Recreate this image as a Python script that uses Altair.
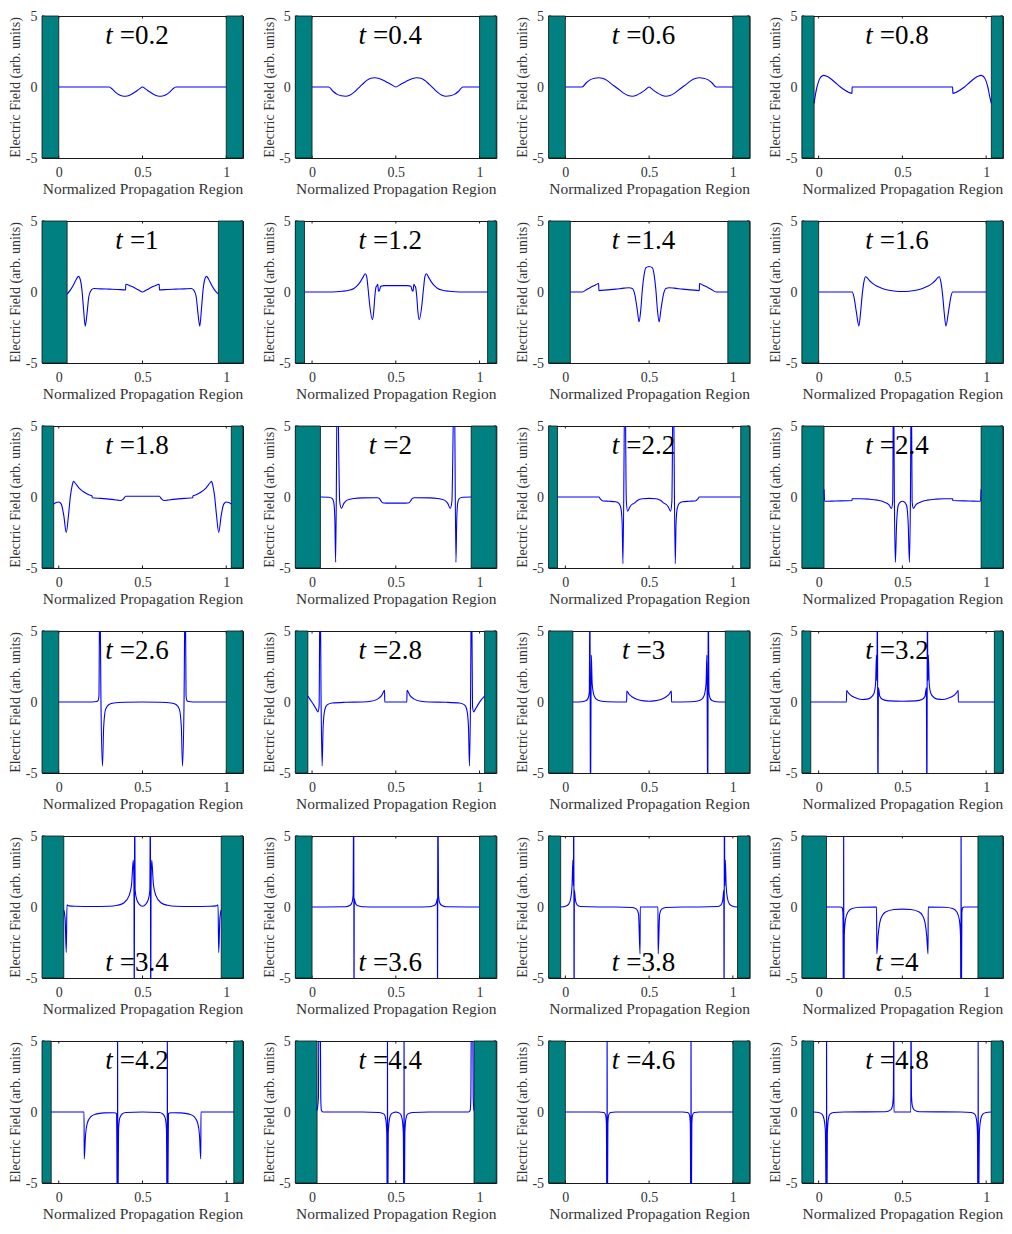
import altair as alt
import pandas as pd

FONT = "Liberation Serif"
TEAL = "#008080"
BLUE = "#0000ff"
TEXT_COLOR = "#333333"
FRAME = "#1a1a1a"

X_TITLE = "Normalized Propagation Region"
Y_TITLE = "Electric Field (arb. units)"
X_DOMAIN = [-0.1, 1.1]
Y_DOMAIN = [-5, 5]
X_TICKS = [0, 0.5, 1]
Y_TICKS = [-5, 0, 5]

T_LABELS = ["0.2", "0.4", "0.6", "0.8", "1", "1.2", "1.4", "1.6",
            "1.8", "2", "2.2", "2.4", "2.6", "2.8", "3", "3.2",
            "3.4", "3.6", "3.8", "4", "4.2", "4.4", "4.6", "4.8"]
TITLE_AT_BOTTOM = ["3.4", "3.6", "3.8", "4"]

WALL_LEFT = [0, 0, 0, -0.027, 0.05, -0.045, 0.03, 0,
             -0.03, 0.05, -0.047, 0.032, 0, -0.025, 0.045, -0.047,
             0.03, 0, -0.028, 0.047, -0.045, 0.03, 0, -0.03]
WALL_RIGHT = [1, 1, 1, 1.031, 0.953, 1.048, 0.97, 1,
              1.03, 0.95, 1.047, 0.97, 1, 1.03, 0.955, 1.049,
              0.97, 1, 1.028, 0.951, 1.045, 0.967, 1, 1.03]

E_T02 = [(0, 0), (0.3, 0), (0.32, -0.15), (0.34, -0.38), (0.36, -0.55), (0.38, -0.63), (0.4, -0.65),
         (0.42, -0.6), (0.44, -0.48), (0.46, -0.32), (0.48, -0.15), (0.5, 0), (0.52, -0.15), (0.54, -0.32),
         (0.56, -0.48), (0.58, -0.6), (0.6, -0.65), (0.62, -0.63), (0.64, -0.55), (0.66, -0.38),
         (0.68, -0.15), (0.7, 0), (1, 0)]
E_T04 = [(0, 0), (0.1, 0), (0.125, -0.3), (0.15, -0.52), (0.175, -0.62), (0.2, -0.65), (0.225, -0.58),
         (0.25, -0.38), (0.275, -0.1), (0.3, 0.18), (0.325, 0.45), (0.35, 0.62), (0.375, 0.65), (0.4, 0.6),
         (0.425, 0.48), (0.45, 0.32), (0.475, 0.16), (0.5, 0), (0.525, 0.16), (0.55, 0.32), (0.575, 0.48),
         (0.6, 0.6), (0.625, 0.65), (0.65, 0.62), (0.675, 0.45), (0.7, 0.18), (0.725, -0.1), (0.75, -0.38),
         (0.775, -0.58), (0.8, -0.65), (0.825, -0.62), (0.85, -0.52), (0.875, -0.3), (0.9, 0), (1, 0)]
E_T06 = [(0, 0), (0.1, 0), (0.125, 0.3), (0.15, 0.52), (0.175, 0.62), (0.2, 0.65), (0.225, 0.6),
         (0.25, 0.45), (0.275, 0.22), (0.3, 0), (0.325, -0.22), (0.35, -0.45), (0.375, -0.6), (0.4, -0.65),
         (0.425, -0.58), (0.45, -0.42), (0.475, -0.22), (0.5, 0), (0.525, -0.22), (0.55, -0.42),
         (0.575, -0.58), (0.6, -0.65), (0.625, -0.6), (0.65, -0.45), (0.675, -0.22), (0.7, 0), (0.725, 0.22),
         (0.75, 0.45), (0.775, 0.6), (0.8, 0.65), (0.825, 0.62), (0.85, 0.52), (0.875, 0.3), (0.9, 0), (1, 0)]
E_T08 = [(-0.027, -1.15), (-0.02, -0.6), (-0.01, 0.0), (0, 0.4), (0.01, 0.65), (0.02, 0.78), (0.03, 0.82),
         (0.045, 0.78), (0.07, 0.6), (0.1, 0.3), (0.13, 0.0), (0.16, -0.25), (0.18, -0.38), (0.199, -0.45),
         (0.2, 0), (0.8, 0), (0.801, -0.45), (0.82, -0.38), (0.84, -0.25), (0.87, 0.0), (0.9, 0.3),
         (0.93, 0.6), (0.955, 0.78), (0.97, 0.82), (0.98, 0.78), (0.99, 0.65), (1.0, 0.4), (1.01, 0.0),
         (1.02, -0.6), (1.031, -1.15)]
E_T10 = [(0.05, -0.15), (0.07, 0.15), (0.09, 0.55), (0.105, 0.9), (0.118, 1.1), (0.128, 0.9), (0.138, 0.2),
         (0.148, -1.2), (0.158, -2.4), (0.168, -1.6), (0.18, -0.3), (0.195, 0.15), (0.21, 0.25), (0.25, 0.22),
         (0.3, 0.2), (0.35, 0.18), (0.399, 0.15), (0.4, 0.55), (0.43, 0.42), (0.46, 0.25), (0.48, 0.12),
         (0.5, 0.0), (0.52, 0.12), (0.54, 0.25), (0.57, 0.42), (0.6, 0.55), (0.601, 0.15), (0.65, 0.18),
         (0.7, 0.2), (0.75, 0.22), (0.79, 0.25), (0.805, 0.15), (0.82, -0.3), (0.832, -1.6), (0.842, -2.4),
         (0.852, -1.2), (0.862, 0.2), (0.872, 0.9), (0.882, 1.1), (0.895, 0.9), (0.91, 0.55), (0.93, 0.15),
         (0.953, -0.15)]
E_T12 = [(-0.045, 0), (0.12, 0), (0.18, 0.05), (0.22, 0.12), (0.25, 0.25), (0.27, 0.45), (0.29, 0.75),
         (0.305, 1.05), (0.318, 1.28), (0.326, 1.1), (0.334, 0.3), (0.345, -1.0), (0.36, -1.95),
         (0.368, -1.4), (0.375, -0.3), (0.382, 0.35), (0.388, 0.45), (0.392, 0.55), (0.397, 0.05),
         (0.402, 0.1), (0.41, 0.4), (0.43, 0.45), (0.5, 0.45), (0.57, 0.45), (0.59, 0.4), (0.598, 0.1),
         (0.603, 0.05), (0.608, 0.55), (0.612, 0.45), (0.618, 0.35), (0.625, -0.3), (0.632, -1.4),
         (0.64, -1.95), (0.655, -1.0), (0.666, 0.3), (0.674, 1.1), (0.682, 1.28), (0.695, 1.05),
         (0.71, 0.75), (0.73, 0.45), (0.75, 0.25), (0.78, 0.12), (0.82, 0.05), (0.88, 0), (1.048, 0)]
E_T14 = [(0.03, 0), (0.1, 0), (0.13, 0.2), (0.16, 0.38), (0.18, 0.5), (0.199, 0.6), (0.2, 0.1),
         (0.25, 0.15), (0.3, 0.2), (0.35, 0.27), (0.38, 0.3), (0.4, 0.25), (0.415, -0.2), (0.43, -1.3),
         (0.44, -2.1), (0.45, -1.3), (0.46, 0.2), (0.47, 1.2), (0.48, 1.7), (0.5, 1.8), (0.52, 1.7),
         (0.53, 1.2), (0.54, 0.2), (0.55, -1.3), (0.56, -2.1), (0.57, -1.3), (0.585, -0.2), (0.6, 0.25),
         (0.62, 0.3), (0.65, 0.27), (0.7, 0.2), (0.75, 0.15), (0.8, 0.1), (0.801, 0.6), (0.82, 0.5),
         (0.84, 0.38), (0.87, 0.2), (0.9, 0), (0.97, 0)]
E_T16 = [(0, 0), (0.2, 0), (0.21, -0.3), (0.225, -1.4), (0.24, -2.4), (0.25, -1.5), (0.26, -0.2),
         (0.27, 0.7), (0.28, 1.07), (0.29, 1.0), (0.3, 0.85), (0.32, 0.62), (0.35, 0.4), (0.38, 0.25),
         (0.42, 0.12), (0.46, 0.05), (0.5, 0.03), (0.54, 0.05), (0.58, 0.12), (0.62, 0.25), (0.65, 0.4),
         (0.68, 0.62), (0.7, 0.85), (0.71, 1.0), (0.72, 1.07), (0.73, 0.7), (0.74, -0.2), (0.75, -1.5),
         (0.76, -2.4), (0.775, -1.4), (0.79, -0.3), (0.8, 0), (1, 0)]
E_T18 = [(-0.03, -0.5), (-0.015, -0.38), (0, -0.35), (0.015, -0.5), (0.03, -1.3), (0.045, -2.5),
         (0.058, -1.3), (0.07, 0.1), (0.08, 0.8), (0.088, 1.1), (0.1, 0.95), (0.12, 0.65), (0.15, 0.35),
         (0.18, 0.15), (0.199, 0.07), (0.2, -0.05), (0.25, -0.1), (0.3, -0.15), (0.35, -0.22), (0.37, -0.25),
         (0.385, -0.15), (0.4, 0.05), (0.6, 0.05), (0.615, -0.15), (0.63, -0.25), (0.65, -0.22), (0.7, -0.15),
         (0.75, -0.1), (0.8, -0.05), (0.801, 0.07), (0.82, 0.15), (0.85, 0.35), (0.88, 0.65), (0.9, 0.95),
         (0.912, 1.1), (0.92, 0.8), (0.93, 0.1), (0.942, -1.3), (0.955, -2.5), (0.97, -1.3), (0.985, -0.5),
         (1.0, -0.35), (1.015, -0.38), (1.03, -0.5)]
E_T20 = [(0.05, 0), (0.1, -0.02), (0.12, -0.1), (0.13, -0.4), (0.136, -1.5), (0.141, -4.6), (0.151, 9),
         (0.165, -0.3), (0.175, -0.8), (0.19, -0.45), (0.21, -0.22), (0.25, -0.1), (0.3, -0.06),
         (0.39, -0.05), (0.4, -0.08), (0.41, -0.25), (0.42, -0.4), (0.44, -0.43), (0.5, -0.43),
         (0.56, -0.43), (0.58, -0.4), (0.59, -0.25), (0.6, -0.08), (0.61, -0.05), (0.7, -0.06),
         (0.75, -0.1), (0.79, -0.22), (0.81, -0.45), (0.825, -0.8), (0.835, -0.3), (0.849, 9),
         (0.859, -4.6), (0.864, -1.5), (0.87, -0.4), (0.88, -0.1), (0.9, -0.02), (0.95, 0)]
E_T22 = [(-0.047, 0), (0.2, 0), (0.21, -0.15), (0.225, -0.28), (0.26, -0.3), (0.3, -0.33), (0.32, -0.45),
         (0.332, -0.8), (0.339, -1.8), (0.344, -4.7), (0.356, 9), (0.364, -0.3), (0.372, -1.0),
         (0.385, -0.7), (0.4, -0.5), (0.41, -0.45), (0.43, -0.25), (0.46, -0.12), (0.5, -0.1),
         (0.54, -0.12), (0.57, -0.25), (0.59, -0.45), (0.6, -0.5), (0.615, -0.7), (0.628, -1.0),
         (0.636, -0.3), (0.644, 9), (0.656, -4.7), (0.661, -1.8), (0.668, -0.8), (0.68, -0.45),
         (0.7, -0.33), (0.74, -0.3), (0.775, -0.28), (0.79, -0.15), (0.8, 0), (1.047, 0)]
E_T24 = [(0.032, 0.55), (0.036, -0.3), (0.1, -0.28), (0.199, -0.25), (0.2, -0.12), (0.25, -0.12),
         (0.3, -0.15), (0.35, -0.22), (0.39, -0.35), (0.42, -0.55), (0.435, -0.8), (0.442, -0.3),
         (0.447, 9), (0.452, 0), (0.458, -4.6), (0.465, -2), (0.475, -0.6), (0.49, -0.33), (0.5, -0.3),
         (0.51, -0.33), (0.525, -0.6), (0.535, -2), (0.542, -4.6), (0.548, 0), (0.553, 9), (0.558, -0.3),
         (0.565, -0.8), (0.58, -0.55), (0.61, -0.35), (0.65, -0.22), (0.7, -0.15), (0.75, -0.12),
         (0.8, -0.12), (0.801, -0.25), (0.9, -0.28), (0.966, -0.3), (0.97, 0.55)]
E_T26 = [(0, 0), (0.2, 0), (0.225, 0.03), (0.235, 0.1), (0.24, 0.4), (0.245, 9), (0.252, 0),
         (0.261, -4.5), (0.268, -1.8), (0.28, -0.5), (0.3, -0.18), (0.33, -0.07), (0.4, -0.02), (0.5, 0),
         (0.6, -0.02), (0.67, -0.07), (0.7, -0.18), (0.72, -0.5), (0.732, -1.8), (0.739, -4.5), (0.748, 0),
         (0.755, 9), (0.76, 0.4), (0.765, 0.1), (0.775, 0.03), (0.8, 0), (1, 0)]
E_T28 = [(-0.025, 0.42), (-0.01, 0.15), (0.01, -0.2), (0.025, -0.5), (0.035, -0.7), (0.042, -0.3),
         (0.048, 9), (0.054, 0), (0.06, -4.5), (0.066, -1.8), (0.075, -0.6), (0.09, -0.2), (0.12, -0.07),
         (0.2, -0.02), (0.3, 0), (0.35, 0.05), (0.39, 0.2), (0.415, 0.45), (0.433, 0.82), (0.434, 0),
         (0.566, 0), (0.567, 0.82), (0.585, 0.45), (0.61, 0.2), (0.65, 0.05), (0.7, 0), (0.8, -0.02),
         (0.88, -0.07), (0.91, -0.2), (0.925, -0.6), (0.934, -1.8), (0.94, -4.5), (0.946, 0), (0.952, 9),
         (0.958, -0.3), (0.965, -0.7), (0.975, -0.5), (0.99, -0.2), (1.01, 0.15), (1.03, 0.42)]
E_T30 = [(0.045, 0), (0.1, 0.02), (0.125, 0.1), (0.137, 0.3), (0.143, 0.7), (0.147, 9), (0.1495, -9),
         (0.155, 3.3), (0.16, 1.3), (0.17, 0.5), (0.185, 0.2), (0.21, 0.07), (0.25, 0.02), (0.366, 0),
         (0.367, 0.77), (0.38, 0.55), (0.4, 0.35), (0.43, 0.18), (0.47, 0.08), (0.5, 0.05), (0.53, 0.08),
         (0.57, 0.18), (0.6, 0.35), (0.62, 0.55), (0.633, 0.77), (0.634, 0), (0.75, 0.02), (0.79, 0.07),
         (0.815, 0.2), (0.83, 0.5), (0.84, 1.3), (0.845, 3.3), (0.8505, -9), (0.853, 9), (0.857, 0.7),
         (0.863, 0.3), (0.875, 0.1), (0.9, 0.02), (0.955, 0)]
E_T32 = [(-0.047, 0), (0.166, 0), (0.167, 0.8), (0.18, 0.6), (0.2, 0.4), (0.23, 0.25), (0.26, 0.18),
         (0.29, 0.2), (0.31, 0.3), (0.33, 0.6), (0.34, 1.3), (0.345, 3.3), (0.348, 1.5), (0.351, 9),
         (0.3535, -9), (0.357, 1.0), (0.365, 0.4), (0.38, 0.2), (0.42, 0.08), (0.5, 0.05), (0.58, 0.08),
         (0.62, 0.2), (0.635, 0.4), (0.643, 1.0), (0.6465, -9), (0.649, 9), (0.652, 1.5), (0.655, 3.3),
         (0.66, 1.3), (0.67, 0.6), (0.69, 0.3), (0.71, 0.2), (0.74, 0.18), (0.77, 0.25), (0.8, 0.4),
         (0.82, 0.6), (0.833, 0.8), (0.834, 0), (1.049, 0)]
E_T34 = [(0.03, -0.2), (0.038, -0.8), (0.045, -3.2), (0.049, 0.15), (0.06, 0.08), (0.1, 0.05), (0.2, 0.03),
         (0.3, 0.05), (0.35, 0.12), (0.39, 0.3), (0.42, 0.8), (0.435, 1.6), (0.445, 3.3), (0.449, 1.5),
         (0.451, -9), (0.453, 9), (0.456, 1.2), (0.465, 0.55), (0.48, 0.2), (0.5, 0.05), (0.52, 0.2),
         (0.535, 0.55), (0.544, 1.2), (0.547, 9), (0.549, -9), (0.551, 1.5), (0.555, 3.3), (0.565, 1.6),
         (0.58, 0.8), (0.61, 0.3), (0.65, 0.12), (0.7, 0.05), (0.8, 0.03), (0.9, 0.05), (0.94, 0.08),
         (0.951, 0.15), (0.955, -3.2), (0.962, -0.8), (0.97, -0.2)]
E_T36 = [(0, 0), (0.2, 0.02), (0.225, 0.1), (0.238, 0.3), (0.245, 0.85), (0.249, 9), (0.2505, -9),
         (0.252, 0.6), (0.258, 0.3), (0.27, 0.1), (0.3, 0.02), (0.4, 0), (0.6, 0), (0.7, 0.02), (0.73, 0.1),
         (0.742, 0.3), (0.748, 0.6), (0.7495, -9), (0.751, 9), (0.755, 0.85), (0.762, 0.3), (0.775, 0.1),
         (0.8, 0.02), (1, 0)]
E_T38 = [(-0.028, 0), (0, 0.05), (0.02, 0.2), (0.032, 0.6), (0.04, 1.5), (0.045, 3.3), (0.048, 1.5),
         (0.0505, 9), (0.052, -9), (0.054, 1.2), (0.06, 0.5), (0.07, 0.15), (0.09, 0.03), (0.2, 0), (0.3, 0),
         (0.4, -0.03), (0.425, -0.15), (0.437, -0.5), (0.446, -3.3), (0.447, 0), (0.553, 0), (0.554, -3.3),
         (0.563, -0.5), (0.575, -0.15), (0.6, -0.03), (0.7, 0), (0.8, 0), (0.91, 0.03), (0.93, 0.15),
         (0.94, 0.5), (0.946, 1.2), (0.948, -9), (0.9495, 9), (0.952, 1.5), (0.955, 3.3), (0.96, 1.5),
         (0.968, 0.6), (0.98, 0.2), (1.0, 0.05), (1.028, 0)]
E_T40 = [(0.047, 0), (0.13, 0), (0.14, -0.05), (0.145, -0.4), (0.1485, -9), (0.1495, 9), (0.1505, -9),
         (0.153, -2.0), (0.16, -0.9), (0.175, -0.35), (0.2, -0.1), (0.25, -0.02), (0.346, 0), (0.347, -3.3),
         (0.355, -2.0), (0.365, -1.1), (0.38, -0.6), (0.4, -0.35), (0.45, -0.18), (0.5, -0.15),
         (0.55, -0.18), (0.6, -0.35), (0.62, -0.6), (0.635, -1.1), (0.645, -2.0), (0.653, -3.3),
         (0.654, 0), (0.75, -0.02), (0.8, -0.1), (0.825, -0.35), (0.84, -0.9), (0.847, -2.0),
         (0.8495, -9), (0.8505, 9), (0.8515, -9), (0.855, -0.4), (0.86, -0.05), (0.87, 0), (0.951, 0)]
E_T42 = [(-0.045, 0), (0.151, 0), (0.152, -3.3), (0.16, -1.6), (0.17, -0.8), (0.19, -0.35), (0.22, -0.15),
         (0.27, -0.06), (0.33, -0.05), (0.345, -0.1), (0.3505, -9), (0.3515, 9), (0.3525, -9),
         (0.357, -1.2), (0.365, -0.4), (0.38, -0.12), (0.4, -0.04), (0.5, 0), (0.6, -0.04), (0.62, -0.12),
         (0.635, -0.4), (0.643, -1.2), (0.6475, -9), (0.6485, 9), (0.6495, -9), (0.655, -0.1),
         (0.67, -0.05), (0.73, -0.06), (0.78, -0.15), (0.81, -0.35), (0.83, -0.8), (0.84, -1.6),
         (0.848, -3.3), (0.849, 0), (1.045, 0)]
E_T44 = [(0.03, 0.1), (0.038, 1.0), (0.042, 9), (0.048, 9), (0.052, 1.0), (0.056, 0.1), (0.065, 0),
         (0.2, 0), (0.3, 0), (0.4, -0.03), (0.43, -0.15), (0.44, -0.5), (0.446, -1.5), (0.4495, -9),
         (0.4505, 9), (0.4515, -9), (0.455, -1.5), (0.462, -0.5), (0.472, -0.15), (0.49, -0.03), (0.5, 0),
         (0.51, -0.03), (0.528, -0.15), (0.538, -0.5), (0.545, -1.5), (0.5485, -9), (0.5495, 9),
         (0.5505, -9), (0.554, -1.5), (0.56, -0.5), (0.57, -0.15), (0.6, -0.03), (0.7, 0), (0.8, 0),
         (0.935, 0), (0.944, 0.1), (0.948, 1.0), (0.952, 9), (0.958, 9), (0.962, 1.0), (0.967, 0.1)]
E_T46 = [(0, 0), (0.2, 0), (0.23, -0.04), (0.24, -0.2), (0.245, -0.8), (0.2485, -9), (0.2495, 9),
         (0.2505, -9), (0.254, -0.8), (0.259, -0.2), (0.27, -0.04), (0.3, 0), (0.7, 0), (0.73, -0.04),
         (0.741, -0.2), (0.746, -0.8), (0.7495, -9), (0.7505, 9), (0.7515, -9), (0.755, -0.8), (0.76, -0.2),
         (0.77, -0.04), (0.8, 0), (1, 0)]
E_T48 = [(-0.03, 0), (0.0, -0.03), (0.02, -0.15), (0.032, -0.5), (0.04, -1.3), (0.0465, -9), (0.0475, 9),
         (0.0485, -9), (0.052, -1.5), (0.058, -0.5), (0.068, -0.15), (0.09, -0.03), (0.15, 0), (0.4, 0.02),
         (0.43, 0.15), (0.44, 0.4), (0.446, 1.2), (0.449, 9), (0.4495, 0), (0.5505, 0), (0.551, 9),
         (0.554, 1.2), (0.56, 0.4), (0.57, 0.15), (0.6, 0.02), (0.85, 0), (0.91, -0.03), (0.932, -0.15),
         (0.942, -0.5), (0.948, -1.5), (0.9515, -9), (0.9525, 9), (0.9535, -9), (0.96, -1.3), (0.968, -0.5),
         (0.98, -0.15), (1.0, -0.03), (1.03, 0)]

FIELDS = [E_T02, E_T04, E_T06, E_T08, E_T10, E_T12, E_T14, E_T16,
          E_T18, E_T20, E_T22, E_T24, E_T26, E_T28, E_T30, E_T32,
          E_T34, E_T36, E_T38, E_T40, E_T42, E_T44, E_T46, E_T48]

W, H = 201, 142
COL_GAP, ROW_GAP = 52.3, 63
TITLE_SIZE = 27
TITLE_CENTER = 95
TICK_LEN = 2.5


def char_w(ch):
    return {"=": 0.564, ".": 0.25}.get(ch, 0.5)


def panel(i):
    lab = T_LABELS[i]
    xs = alt.Scale(domain=X_DOMAIN, nice=False, zero=False)
    ys = alt.Scale(domain=Y_DOMAIN, nice=False, zero=False)
    xax = alt.Axis(values=X_TICKS, labelExpr="datum.value + ''", title=X_TITLE)
    yax = alt.Axis(values=Y_TICKS, labelExpr="datum.value + ''", title=Y_TITLE)
    X = alt.X("x:Q", scale=xs, axis=xax)
    Y = alt.Y("y:Q", scale=ys, axis=yax)

    xt = pd.DataFrame({"x": X_TICKS})
    yt = pd.DataFrame({"y": Y_TICKS})
    tick_style = dict(color=FRAME, strokeWidth=1)
    xtick_b = alt.Chart(xt).mark_rule(**tick_style).encode(
        x=X, y=alt.value(H - TICK_LEN), y2=alt.value(H))
    xtick_t = alt.Chart(xt).mark_rule(**tick_style).encode(
        x=X, y=alt.value(0), y2=alt.value(TICK_LEN))
    ytick_l = alt.Chart(yt).mark_rule(**tick_style).encode(
        y=Y, x=alt.value(0), x2=alt.value(TICK_LEN))
    ytick_r = alt.Chart(yt).mark_rule(**tick_style).encode(
        y=Y, x=alt.value(W - TICK_LEN), x2=alt.value(W))

    walls = pd.DataFrame({
        "x": [X_DOMAIN[0], WALL_RIGHT[i]],
        "x2": [WALL_LEFT[i], X_DOMAIN[1]],
        "y": [Y_DOMAIN[0], Y_DOMAIN[0]],
        "y2": [Y_DOMAIN[1], Y_DOMAIN[1]],
    })
    rect = alt.Chart(walls).mark_rect(fill=TEAL, stroke="#111111", strokeWidth=0.8).encode(
        x=X, x2="x2:Q", y=Y, y2="y2:Q")

    df = pd.DataFrame(FIELDS[i], columns=["x", "y"])
    line = alt.Chart(df).mark_line(color=BLUE, strokeWidth=1.1, clip=True,
                                   interpolate="monotone").encode(x=X, y=Y)

    rest = "=" + lab
    w_t = 0.278 * TITLE_SIZE
    gap = 7
    w_rest = sum(char_w(c) for c in rest) * TITLE_SIZE
    total = w_t + gap + w_rest
    anchor = TITLE_CENTER - total / 2 + w_t + gap
    ty = H - 7.5 if lab in TITLE_AT_BOTTOM else 27.5

    one = pd.DataFrame({"k": [0]})
    t_mark = alt.Chart(one).mark_text(text="t", font=FONT, fontStyle="italic", fontSize=TITLE_SIZE,
                                      align="right", baseline="alphabetic", color="black").encode(
        x=alt.value(anchor - gap), y=alt.value(ty))
    v_mark = alt.Chart(one).mark_text(text=rest, font=FONT, fontSize=TITLE_SIZE,
                                      align="left", baseline="alphabetic", color="black").encode(
        x=alt.value(anchor), y=alt.value(ty))

    return alt.layer(xtick_b, xtick_t, ytick_l, ytick_r, rect, line, t_mark, v_mark).properties(
        width=W, height=H)


chart = alt.concat(*[panel(i) for i in range(24)], columns=4,
                   spacing={"row": ROW_GAP, "column": COL_GAP}, bounds="flush").properties(
    padding={"left": 0, "top": 0, "right": 0, "bottom": 0}
).configure_view(
    stroke=FRAME, strokeWidth=1
).configure_axis(
    grid=False, domain=False, ticks=False, tickSize=0,
    labelFont=FONT, labelFontSize=14, labelColor=TEXT_COLOR,
    titleFont=FONT, titleFontWeight="normal", titleColor=TEXT_COLOR
).configure_axisX(
    labelPadding=7, titlePadding=2, titleFontSize=15.5, labelAngle=0
).configure_axisY(
    labelPadding=5, titlePadding=2.5, titleFontSize=14
)

chart.save("out.html", embed_options={"renderer": "svg", "actions": False})
